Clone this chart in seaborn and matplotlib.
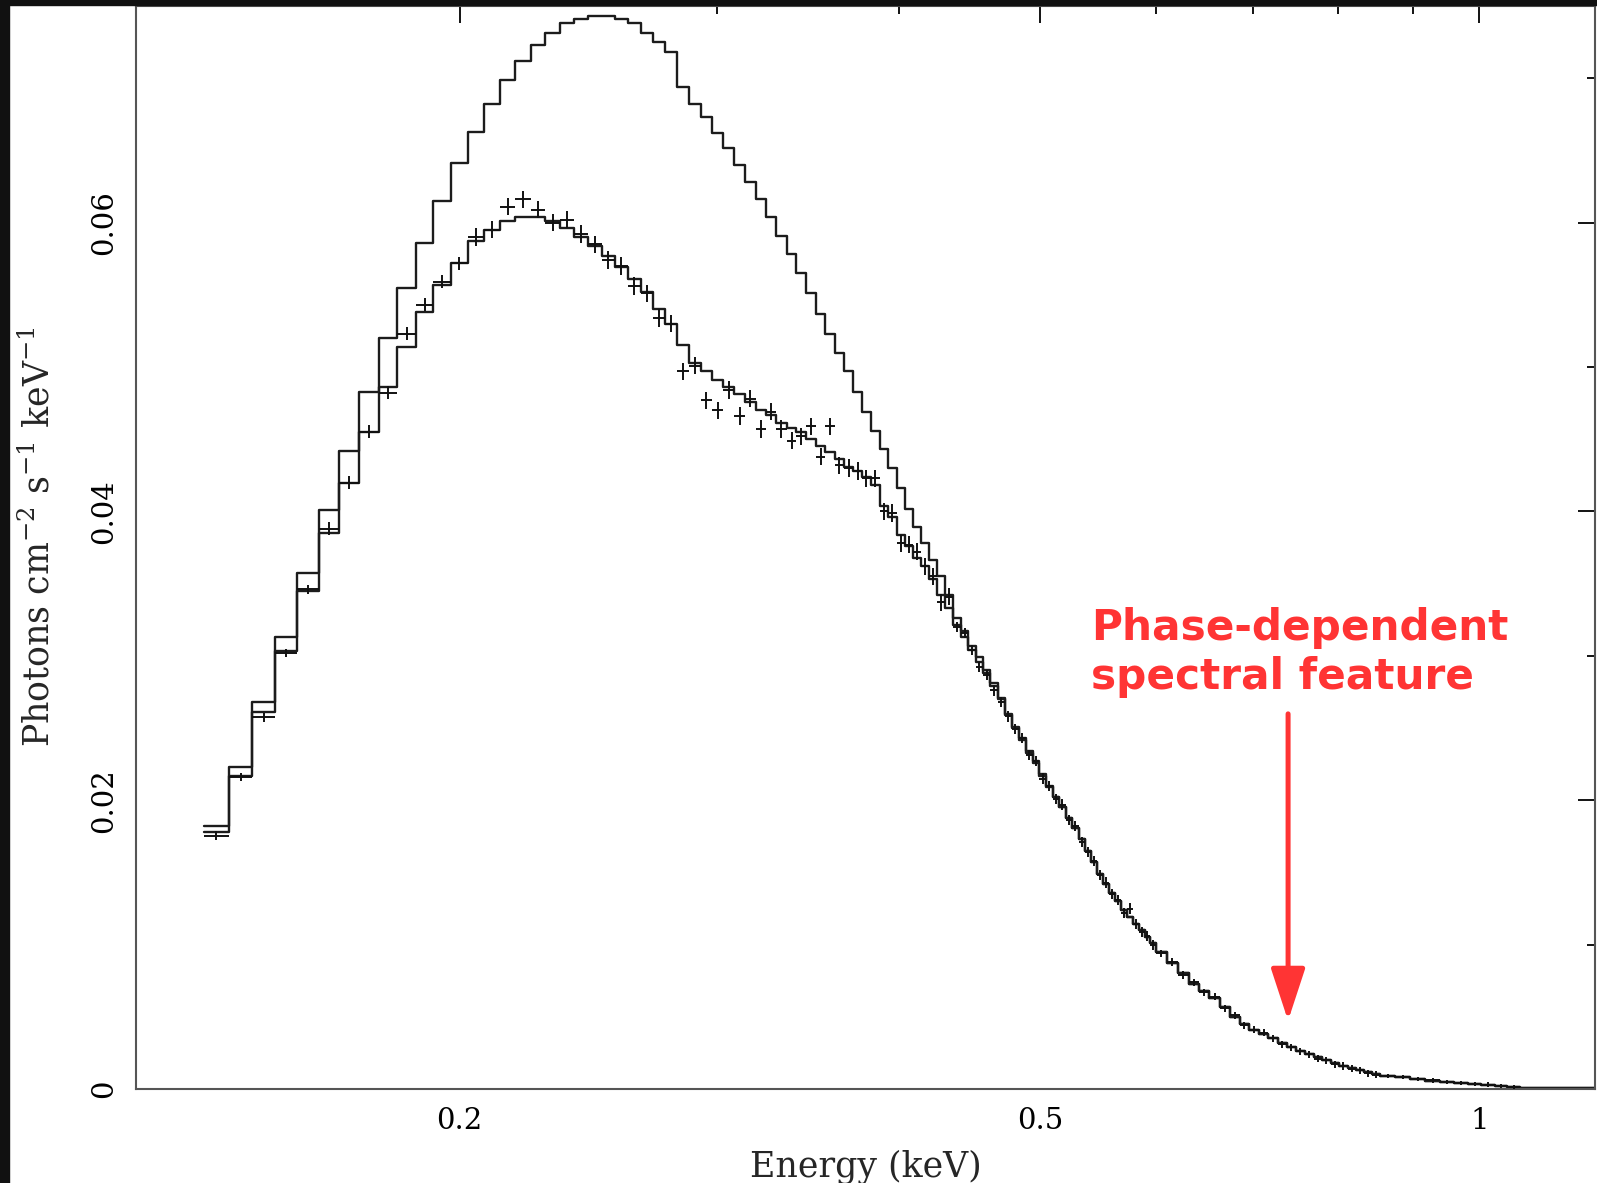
import matplotlib
matplotlib.use('Agg')
import matplotlib.pyplot as plt
import seaborn as sns
import pandas as pd
from matplotlib.patches import Rectangle
from matplotlib.ticker import FixedLocator, FixedFormatter, NullFormatter

# ---------------- data ----------------
bin_edges = [
    0.1336, 0.1389, 0.1442, 0.1495, 0.1548, 0.1601, 0.1654, 0.1707, 0.1760, 0.1813,
    0.1866, 0.1919, 0.1972, 0.2025, 0.2078, 0.2131, 0.2184, 0.2237, 0.2290, 0.2343,
    0.2396, 0.2449, 0.2502, 0.2555, 0.2608, 0.2661, 0.2714, 0.2767, 0.2820, 0.2873,
    0.2926, 0.2979, 0.3032, 0.3085, 0.3138, 0.3191, 0.3244, 0.3297, 0.3350, 0.3403,
    0.3456, 0.3509, 0.3562, 0.3615, 0.3668, 0.3721, 0.3774, 0.3827, 0.3880, 0.3933,
    0.3986, 0.4039, 0.4092, 0.4145, 0.4198, 0.4251, 0.4304, 0.4357, 0.4410, 0.4463,
    0.4516, 0.4569, 0.4622, 0.4675, 0.4728, 0.4781, 0.4834, 0.4887, 0.4940, 0.4993,
    0.5046, 0.5099, 0.5152, 0.5205, 0.5258, 0.5311, 0.5364, 0.5417, 0.5470, 0.5523,
    0.5576, 0.5629, 0.5682, 0.5735, 0.5788, 0.5841, 0.5894, 0.5947, 0.6000,
    0.6106, 0.6212, 0.6318, 0.6424, 0.6530, 0.6636, 0.6742, 0.6848, 0.6954, 0.7060,
    0.7166, 0.7272, 0.7378, 0.7484, 0.7590, 0.7696, 0.7802, 0.7908, 0.8014, 0.8120,
    0.8226, 0.8332, 0.8438, 0.8544,
    0.8756, 0.8968, 0.9180, 0.9392, 0.9604, 0.9816, 1.0028, 1.0240, 1.0452, 1.0664,
]

model_high = [
    0.0182, 0.0223, 0.0268, 0.0313, 0.0357, 0.0401, 0.0442, 0.0483, 0.0520, 0.0555,
    0.0586, 0.0615, 0.0641, 0.0663, 0.0682, 0.0699, 0.0712, 0.0723, 0.0731, 0.0738,
    0.0741, 0.0743, 0.0743, 0.0741, 0.0738, 0.0731, 0.0725, 0.0718, 0.0694, 0.0682,
    0.0673, 0.0662, 0.0652, 0.0640, 0.0628, 0.0616, 0.0604, 0.0591, 0.0578, 0.0565,
    0.0551, 0.0537, 0.0523, 0.0510, 0.0497, 0.0483, 0.0469, 0.0456, 0.0443, 0.0430,
    0.0416, 0.0402, 0.0389, 0.0378, 0.0366, 0.0355, 0.0342, 0.0326, 0.0317, 0.0307,
    0.0299, 0.0290, 0.0281, 0.0271, 0.0260, 0.0251, 0.0243, 0.0234, 0.0227, 0.0218,
    0.0210, 0.0202, 0.0195, 0.0188, 0.0181, 0.0173, 0.0165, 0.0157, 0.0149, 0.0142,
    0.0136, 0.0130, 0.0124, 0.0119, 0.0114, 0.0110, 0.0105, 0.0101,
    0.0095, 0.0087, 0.0080, 0.0073, 0.0068, 0.0063, 0.0057, 0.0050, 0.0045, 0.0041,
    0.0038, 0.0035, 0.0032, 0.0029, 0.0026, 0.0024, 0.0022, 0.0020, 0.0018, 0.0016,
    0.00145, 0.0013, 0.00117, 0.00105,
    0.00093, 0.00082, 0.00072, 0.00058, 0.00048, 0.00041, 0.00036, 0.00030, 0.00020, 0.00014,
]

model_fit = [
    0.0178, 0.0217, 0.0261, 0.0303, 0.0345, 0.0385, 0.0420, 0.0455, 0.0486, 0.0514,
    0.0538, 0.0557, 0.0572, 0.0587, 0.0595, 0.0601, 0.0604, 0.0604, 0.0601, 0.0596,
    0.0590, 0.0584, 0.0577, 0.0569, 0.0561, 0.0552, 0.0540, 0.0530, 0.0515, 0.0503,
    0.0497, 0.0491, 0.0486, 0.0481, 0.0476, 0.0470, 0.0467, 0.0461, 0.0458, 0.0455,
    0.0450, 0.0445, 0.0441, 0.0436, 0.0431, 0.0428, 0.0424, 0.0418, 0.0404, 0.0396,
    0.0384, 0.0376, 0.0368, 0.0362, 0.0353, 0.0342, 0.0333, 0.0321, 0.0313, 0.0304,
    0.0296, 0.0288, 0.0279, 0.0270, 0.0259, 0.0250, 0.0242, 0.0233, 0.0226, 0.0217,
    0.0209, 0.0202, 0.0195, 0.0188, 0.0181, 0.0173, 0.0165, 0.0157, 0.0149, 0.0142,
    0.0136, 0.0130, 0.0124, 0.0119, 0.0114, 0.0110, 0.0105, 0.0101,
    0.0095, 0.0087, 0.0080, 0.0073, 0.0068, 0.0063, 0.0057, 0.0050, 0.0045, 0.0041,
    0.0038, 0.0035, 0.0032, 0.0029, 0.0026, 0.0024, 0.0022, 0.0020, 0.0018, 0.0016,
    0.00145, 0.0013, 0.00117, 0.00105,
    0.00093, 0.00082, 0.00072, 0.00058, 0.00048, 0.00041, 0.00036, 0.00030, 0.00020, 0.00014,
]

data_flux = [
    0.01755, 0.0216, 0.02575, 0.0302, 0.0346, 0.0388, 0.0420, 0.0455, 0.0482, 0.0523,
    0.0543, 0.0559, 0.0572, 0.0590, 0.0595, 0.0611, 0.0616, 0.0609, 0.0600, 0.0602,
    0.0592, 0.0585, 0.0574, 0.0570, 0.0556, 0.0551, 0.0534, 0.0530, 0.0497, 0.0501,
    0.0477, 0.0470, 0.0484, 0.0466, 0.0478, 0.0457, 0.0469, 0.0457, 0.0449, 0.0452,
    0.0459, 0.0438, 0.0459, 0.0432, 0.0430, 0.0428, 0.0423, 0.0423, 0.0400, 0.0399,
    0.0378, 0.0377, 0.0372, 0.0362, 0.0355, 0.0337, 0.0341, 0.0320, 0.0316, 0.0304,
    0.0292, 0.0287, 0.0276, 0.0268, 0.0258, 0.0249, 0.0243, 0.0231, 0.0227, 0.0215,
    0.0210, 0.0201, 0.0197, 0.0186, 0.0182, 0.0171, 0.0164, 0.0158, 0.0148, 0.0143,
    0.0135, 0.0131, 0.0122, 0.0125, 0.0114, 0.0109, 0.0106, 0.0100,
    0.0094, 0.0088, 0.0079, 0.0074, 0.0067, 0.0064, 0.0056, 0.0051, 0.0044, 0.0041,
    0.0039, 0.0035, 0.0031, 0.0029, 0.0026, 0.0024, 0.0021, 0.0020, 0.0017, 0.0016,
    0.0014, 0.0013, 0.0011, 0.0010,
    0.00092, 0.00083, 0.00071, 0.00059, 0.00047, 0.00042, 0.00035, 0.00031, 0.00019, 0.00015,
]

data_err = ([0.0003] * 5 + [0.00045] * 8 + [0.0006] * 44 + [0.00035] * 31
            + [0.00025] * 24 + [0.00015] * 10)

model_tail_edge = 1.2
model_tail_value = 0.00004

x_major = [0.2, 0.5, 1.0]
x_major_labels = ['0.2', '0.5', '1']
x_minor = [0.3, 0.4, 0.6, 0.7, 0.8, 0.9]
y_major = [0.0, 0.02, 0.04, 0.06]
y_major_labels = ['0', '0.02', '0.04', '0.06']
y_minor = [0.01, 0.03, 0.05, 0.07]

x_label = 'Energy (keV)'
y_label = r'Photons cm$^{-2}$ s$^{-1}$ keV$^{-1}$'
note_text = 'Phase-dependent\nspectral feature'
note_pos = (0.5421, 0.03335)
arrow_x = 0.7393
arrow_from = 0.02598
arrow_to = 0.00473

# ---------------- style ----------------
sns.set_style('white')
plt.rcParams['font.family'] = ['DejaVu Serif']
plt.rcParams['mathtext.fontset'] = 'dejavuserif'

W, H = 1597, 1183
fig = plt.figure(figsize=(W / 100, H / 100), dpi=100)
fig.patch.set_facecolor('white')
ax = fig.add_axes([136 / W, 1 - 1089 / H, (1595 - 136) / W, (1089 - 6) / H])
ax.set_facecolor('white')

line_col = '#1c1c1c'

# model curves as histograms (steps)
edges_m = bin_edges + [model_tail_edge]
hi = model_high + [model_tail_value]
fit = model_fit + [model_tail_value]
df_hi = pd.DataFrame({'E': edges_m, 'F': hi + [hi[-1]]})
df_fit = pd.DataFrame({'E': edges_m, 'F': fit + [fit[-1]]})
sns.lineplot(data=df_hi, x='E', y='F', ax=ax, color=line_col, lw=1.7,
             drawstyle='steps-post', estimator=None, sort=False)
sns.lineplot(data=df_fit, x='E', y='F', ax=ax, color=line_col, lw=1.7,
             drawstyle='steps-post', estimator=None, sort=False)

# data crosses
centers = [(a + b) / 2 for a, b in zip(bin_edges[:-1], bin_edges[1:])]
half_w = [(b - a) / 2 for a, b in zip(bin_edges[:-1], bin_edges[1:])]
ax.errorbar(centers, data_flux, xerr=half_w, yerr=data_err, fmt='none',
            ecolor='#111111', elinewidth=1.4, capsize=0, zorder=3)

# axes
ax.set_xscale('log')
ax.set_xlim(0.12, 1.2)
ax.set_ylim(0, 0.075)
ax.xaxis.set_major_locator(FixedLocator(x_major))
ax.xaxis.set_major_formatter(FixedFormatter(x_major_labels))
ax.xaxis.set_minor_locator(FixedLocator(x_minor))
ax.xaxis.set_minor_formatter(NullFormatter())
ax.yaxis.set_major_locator(FixedLocator(y_major))
ax.yaxis.set_major_formatter(FixedFormatter(y_major_labels))
ax.yaxis.set_minor_locator(FixedLocator(y_minor))

ax.tick_params(which='both', direction='in', top=True, right=True,
               colors='black', width=1.3, labelsize=21, pad=13)
ax.tick_params(which='major', length=12)
ax.tick_params(which='minor', length=6)
for lab in ax.get_yticklabels():
    lab.set_rotation(90)
    lab.set_va('center')

for sp in ax.spines.values():
    sp.set_color('#555555')
    sp.set_linewidth(1.5)

ax.set_xlabel(x_label, fontsize=25)
ax.set_ylabel(y_label, fontsize=25)
ax.xaxis.set_label_coords(0.5, -0.0554)
ax.yaxis.set_label_coords(-0.0548, 0.5097)

# annotation
ax.text(note_pos[0], note_pos[1], note_text, color='#ff3434', fontsize=30.4,
        fontweight='bold', family='DejaVu Sans', ha='left', va='top',
        linespacing=1.2, zorder=5)
ax.annotate('', xy=(arrow_x, arrow_to), xytext=(arrow_x, arrow_from),
            arrowprops=dict(arrowstyle='-|>,head_length=3.2,head_width=1.05',
                            mutation_scale=10, lw=3.6, color='#ff3434',
                            shrinkA=0, shrinkB=0), zorder=5)

# dark frame of the original screenshot
fig.add_artist(Rectangle((0, 0), 9 / W, 1, transform=fig.transFigure,
                         color='#111111', zorder=20))
fig.add_artist(Rectangle((0, 1 - 5 / H), 1, 5 / H, transform=fig.transFigure,
                         color='#111111', zorder=20))

fig.savefig('out.png', dpi=100, facecolor='white')
